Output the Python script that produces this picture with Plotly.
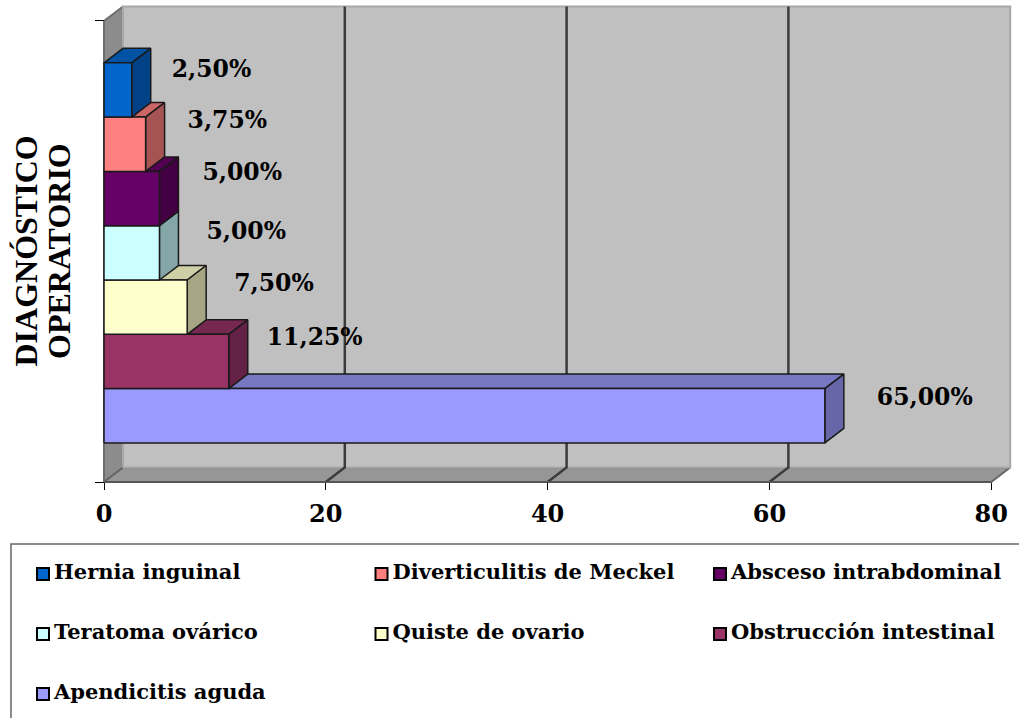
import plotly.graph_objects as go

categories = ["Apendicitis aguda", "Obstrucción intestinal", "Quiste de ovario", "Teratoma ovárico",
              "Absceso intrabdominal", "Diverticulitis de Meckel", "Hernia inguinal"]
values = [65.0, 11.25, 7.5, 5.0, 5.0, 3.75, 2.5]
value_labels = ["65,00%", "11,25%", "7,50%", "5,00%", "5,00%", "3,75%", "2,50%"]
legend_order = ["Hernia inguinal", "Diverticulitis de Meckel", "Absceso intrabdominal",
                "Teratoma ovárico", "Quiste de ovario", "Obstrucción intestinal", "Apendicitis aguda"]
x_ticks = [0, 20, 40, 60, 80]
y_title_lines = ["DIAGNÓSTICO", "OPERATORIO"]

# styles
front = ["#9999FF", "#993366", "#FFFFCC", "#CCFFFF", "#660066", "#FF8080", "#0066CC"]
side = ["#6666A8", "#632145", "#A6A685", "#85A6A6", "#420042", "#A65353", "#004285"]
top = ["#7777C2", "#772850", "#CFCFA5", "#A0C8C8", "#530053", "#CC6666", "#0052A3"]
label_dx_px = [52, 38, 47, 47, 43, 42, 40]
label_dy_px = [-16.5, -22.5, -22.5, -19.5, -24.5, -22.5, -18.5]
y_title_x_px = [25.5, 59]

W, H = 1019, 718
X0, XU = 104.0, 11.09     # px of value 0, px per value unit
Y0, YU = 482.0, 54.3      # px of slot 0, px per slot
DX, DY = 19 / XU, 14.5 / YU   # 3-D depth in data units
GAP = 0.72                # empty slots below first bar
YTOP = 8.49
XR = [-1, 82]
YR = [-0.2, 8.85]
SERIF = "DejaVu Serif"
LEG_LEFT, LEG_STEP_X, LEG_TOP, LEG_STEP_Y = 43.0, 338.5, 574.0, 60.0
LEG_TEXT_PX = 11.0

fig = go.Figure()


def poly(xs, ys, fill, line, width=1.5, name=None, mode="lines"):
    fig.add_trace(go.Scatter(x=xs + xs[:1], y=ys + ys[:1], fill="toself", fillcolor=fill, mode=mode,
                             line=dict(color=line, width=width), hoverinfo="text" if name else "skip",
                             text=name, showlegend=False))


# walls and floor
poly([0, DX, DX, 0], [0, DY, YTOP + DY, YTOP], "#8C8C8C", "#6E6E6E", 2)
poly([0, 80, 80 + DX, DX], [0, 0, DY, DY], "#969696", "#666666", 2)
poly([DX, 80 + DX, 80 + DX, DX], [DY, DY, YTOP + DY, YTOP + DY], "#C0C0C0", "#A8A8A8", 2)
for t in x_ticks[1:-1]:
    fig.add_trace(go.Scatter(x=[t, t + DX, t + DX], y=[0, DY, YTOP + DY], mode="lines",
                             line=dict(color="#3A3A3A", width=2.5), hoverinfo="skip", showlegend=False))
fig.add_trace(go.Scatter(x=[0, 0], y=[0, YTOP], mode="lines", line=dict(color="#6E6E6E", width=2),
                         hoverinfo="skip", showlegend=False))
fig.add_trace(go.Scatter(x=[0, 80], y=[0, 0], mode="lines", line=dict(color="#555555", width=2),
                         hoverinfo="skip", showlegend=False))

# bars: bottom one first, so that each upper bar hides the one beneath
for i, (cat, v) in enumerate(zip(categories, values)):
    lo, hi = GAP + i, GAP + i + 1
    poly([0, v, v + DX, DX], [hi, hi, hi + DY, hi + DY], top[i], "#1A1A1A")
    poly([v, v + DX, v + DX, v], [lo, lo + DY, hi + DY, hi], side[i], "#1A1A1A")
    poly([0, v, v, 0], [lo, lo, hi, hi], front[i], "#1A1A1A", name=f"{cat}: {value_labels[i]}")

# value labels
fig.add_trace(go.Scatter(
    x=[v + dx / XU for v, dx in zip(values, label_dx_px)],
    y=[GAP + i + 0.5 - dy / YU for i, dy in enumerate(label_dy_px)],
    mode="text", text=value_labels, textposition="middle right", cliponaxis=False,
    textfont=dict(family=SERIF, size=23.5, color="#000000", weight="bold"),
    hoverinfo="skip", showlegend=False))

# legend drawn on its own axes (3 columns)
for k, name in enumerate(legend_order):
    i = categories.index(name)
    fig.add_trace(go.Scatter(
        x=[k % 3], y=[k // 3], xaxis="x2", yaxis="y2", mode="markers", cliponaxis=False,
        marker=dict(symbol="square", size=12, color=front[i], line=dict(color="#000000", width=2)),
        hoverinfo="skip", showlegend=False))
    fig.add_trace(go.Scatter(
        x=[k % 3 + LEG_TEXT_PX / LEG_STEP_X], y=[k // 3], xaxis="x2", yaxis="y2", mode="text", text=[name],
        textposition="middle right", cliponaxis=False,
        textfont=dict(family=SERIF, size=21, color="#000000", weight="bold"),
        hoverinfo="skip", showlegend=False))

fig.update_layout(
    width=W, height=H, autosize=False, margin=dict(l=0, r=0, t=0, b=0),
    paper_bgcolor="#FFFFFF", plot_bgcolor="rgba(0,0,0,0)", showlegend=False,
    xaxis=dict(domain=[(X0 + XR[0] * XU) / W, (X0 + XR[1] * XU) / W], range=XR, showgrid=False, zeroline=False,
               anchor="free", position=(H - Y0) / H, tickmode="array", tickvals=x_ticks,
               ticks="outside", ticklen=7, tickwidth=1, tickcolor="#000000", ticklabelstandoff=3,
               tickfont=dict(family=SERIF, size=24, color="#000000", weight="bold")),
    yaxis=dict(domain=[(H - (Y0 - YR[0] * YU)) / H, (H - (Y0 - YR[1] * YU)) / H], range=YR, showgrid=False,
               zeroline=False, anchor="free", position=X0 / W, tickmode="array", tickvals=[0, YTOP],
               ticktext=["", ""], ticks="outside", ticklen=9, tickwidth=1, tickcolor="#000000"),
    xaxis2=dict(domain=[0, 1], range=[-LEG_LEFT / LEG_STEP_X, (W - LEG_LEFT) / LEG_STEP_X], visible=False,
                anchor="y2"),
    yaxis2=dict(domain=[0, 1], range=[(H - LEG_TOP) / LEG_STEP_Y, -LEG_TOP / LEG_STEP_Y], visible=False,
                anchor="x2"),
    shapes=[dict(type="rect", xref="paper", yref="paper", x0=11 / W, x1=1.05, y0=-0.05, y1=(H - 544) / H,
                 line=dict(color="#666666", width=1.5), fillcolor="rgba(0,0,0,0)", layer="below")],
    annotations=[dict(text=line, xref="paper", yref="paper",
                      x=px / W, y=(H - 251) / H, textangle=-90, showarrow=False,
                      xanchor="center", yanchor="middle",
                      font=dict(family="Liberation Serif", size=32, color="#000000", weight="bold"))
                 for line, px in zip(y_title_lines, y_title_x_px)],
)
fig.write_html("out.html", config={"displayModeBar": False},
               post_script="document.body.style.margin='0';")
